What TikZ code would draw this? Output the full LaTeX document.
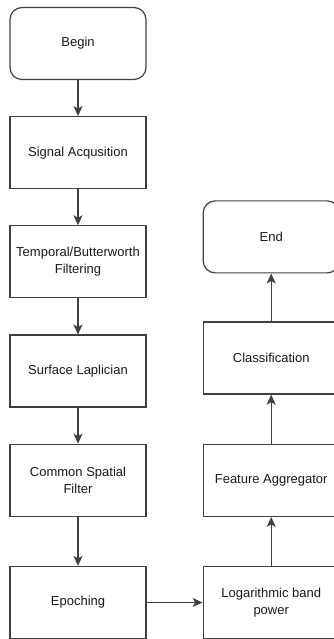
\documentclass[tikz,border=0pt]{standalone}
\usepackage{fontspec}
\setmainfont{Liberation Sans}
\usetikzlibrary{arrows.meta,positioning}

\begin{document}
\begin{tikzpicture}[
            block/.style={rectangle, draw=black!75, line width=1.2pt, minimum height=72pt, minimum width=136pt, align=center, text=black!90, font=\fontsize{13}{17}\selectfont},
            term/.style={block, rounded corners=12pt},
            flow/.style={-{Stealth[length=10pt,width=9pt,inset=2.5pt]}, line width=1.2pt, draw=black!75},
            node distance=36pt and 56pt
        ]
        \useasboundingbox (0,0) rectangle (334pt,639pt);

        \node[term] (begin) at (78pt,595.5pt) {Begin};
        \node[block, below=of begin] (acq) {Signal Acqusition};
        \node[block, below=of acq] (filt) {Temporal/Butterworth\\Filtering};
        \node[block, below=of filt] (lap) {Surface Laplician};
        \node[block, below=of lap] (csp) {Common Spatial\\Filter};
        \node[block, below=49pt of csp] (epoch) {Epoching};

        \node[block, right=of epoch] (logbp) {Logarithmic band\\power};
        \node[block, above=49pt of logbp] (feat) {Feature Aggregator};
        \node[block, above=49pt of feat] (classif) {Classification};
        \node[term, above=48pt of classif] (end) {End};

        \draw[flow] (begin) -- (acq);
        \draw[flow] (acq) -- (filt);
        \draw[flow] (filt) -- (lap);
        \draw[flow] (lap) -- (csp);
        \draw[flow] (csp) -- (epoch);
        \draw[flow] (epoch) -- (logbp);
        \draw[flow] (logbp) -- (feat);
        \draw[flow] (feat) -- (classif);
        \draw[flow] (classif) -- (end);

    \end{tikzpicture}
\end{document}
